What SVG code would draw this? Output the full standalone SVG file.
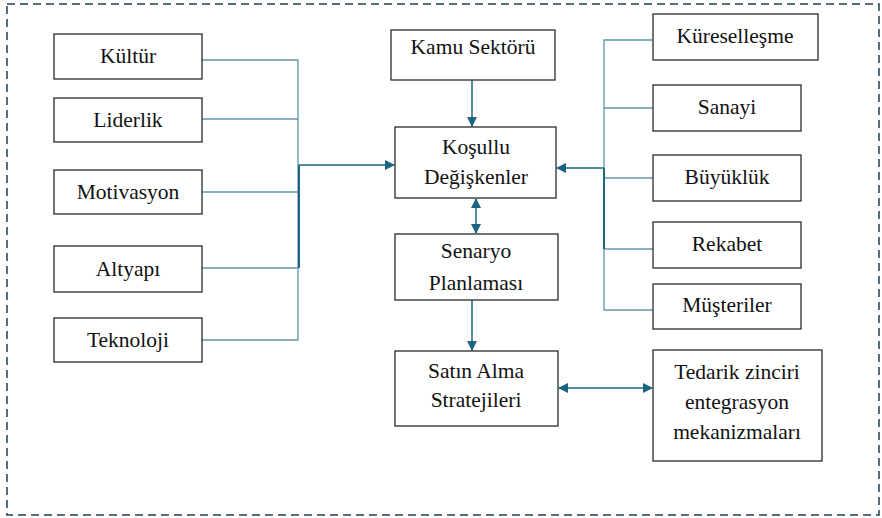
<svg xmlns="http://www.w3.org/2000/svg" width="882" height="518" viewBox="0 0 882 518">
<defs>
<style>
.box{fill:#fff;stroke:#2b2b2b;stroke-width:1.3}
.t{font-family:"Liberation Serif","Times New Roman",serif;font-size:21.5px;fill:#111;text-anchor:middle}
.lt{fill:none;stroke:#5e97ab;stroke-width:1.3}
.dk{fill:none;stroke:#1d6482;stroke-width:2}
.ar{fill:none;stroke:#1d6482;stroke-width:1.5}
</style>
<marker id="ah" markerWidth="10" markerHeight="10" refX="9" refY="5" orient="auto-start-reverse" markerUnits="userSpaceOnUse">
<path d="M0,0 L10,5 L0,10 Z" fill="#1d6482"/>
</marker>
</defs>
<rect x="0" y="0" width="882" height="518" fill="#fff"/>
<rect x="7" y="4" width="872" height="511" fill="none" stroke="#233f52" stroke-width="1.5" stroke-dasharray="8,5"/>

<g id="connectors">
<!-- left bus -->
<path class="lt" d="M202,60 H298 V340 H202"/>
<path class="lt" d="M202,119 H298"/>
<path class="lt" d="M202,192 H298"/>
<path class="lt" d="M202,268 H298"/>
<path class="dk" d="M299,165 V268"/>
<path class="ar" d="M299,165 H394" marker-end="url(#ah)"/>
<!-- right bus -->
<path class="lt" d="M653,40 H604 V310 H653"/>
<path class="lt" d="M604,108 H653"/>
<path class="lt" d="M604,178 H653"/>
<path class="lt" d="M604,249 H653"/>
<path class="dk" d="M604,168 V249"/>
<path class="ar" d="M604,168 H557" marker-end="url(#ah)"/>
<!-- center -->
<path class="ar" d="M472,80 V126" marker-end="url(#ah)"/>
<path class="ar" d="M476,199 V233" marker-start="url(#ah)" marker-end="url(#ah)"/>
<path class="ar" d="M472,300 V350" marker-end="url(#ah)"/>
<path class="ar" d="M559,388 H652" marker-start="url(#ah)" marker-end="url(#ah)"/>
</g>

<g id="kultur"><rect class="box" x="54" y="34" width="148" height="45"/><text class="t" x="128" y="63">Kültür</text></g>
<g id="liderlik"><rect class="box" x="54" y="98" width="148" height="44"/><text class="t" x="128" y="127">Liderlik</text></g>
<g id="motivasyon"><rect class="box" x="54" y="170" width="148" height="44"/><text class="t" x="128" y="199">Motivasyon</text></g>
<g id="altyapi"><rect class="box" x="54" y="246" width="148" height="46"/><text class="t" x="128" y="276">Altyapı</text></g>
<g id="teknoloji"><rect class="box" x="54" y="318" width="148" height="44"/><text class="t" x="128" y="347">Teknoloji</text></g>

<g id="kamu"><rect class="box" x="391" y="30" width="164" height="50"/><text class="t" x="473" y="54">Kamu Sektörü</text></g>
<g id="kosullu"><rect class="box" x="395" y="127" width="161" height="71"/><text class="t" x="476" y="154">Koşullu</text><text class="t" x="476" y="184">Değişkenler</text></g>
<g id="senaryo"><rect class="box" x="395" y="234" width="163" height="66"/><text class="t" x="476" y="258">Senaryo</text><text class="t" x="476" y="290">Planlaması</text></g>
<g id="satinalma"><rect class="box" x="395" y="351" width="163" height="75"/><text class="t" x="476" y="378">Satın Alma</text><text class="t" x="476" y="407">Stratejileri</text></g>
<g id="tedarik"><rect class="box" x="653" y="350" width="169" height="111"/><text class="t" x="737" y="379">Tedarik zinciri</text><text class="t" x="737" y="409">entegrasyon</text><text class="t" x="737" y="439">mekanizmaları</text></g>

<g id="kuresellesme"><rect class="box" x="653" y="14" width="165" height="46"/><text class="t" x="735" y="43">Küreselleşme</text></g>
<g id="sanayi"><rect class="box" x="653" y="85" width="148" height="46"/><text class="t" x="727" y="114">Sanayi</text></g>
<g id="buyukluk"><rect class="box" x="653" y="155" width="148" height="46"/><text class="t" x="727" y="184">Büyüklük</text></g>
<g id="rekabet"><rect class="box" x="653" y="222" width="148" height="46"/><text class="t" x="727" y="251">Rekabet</text></g>
<g id="musteriler"><rect class="box" x="653" y="284" width="148" height="45"/><text class="t" x="727" y="312">Müşteriler</text></g>
</svg>
